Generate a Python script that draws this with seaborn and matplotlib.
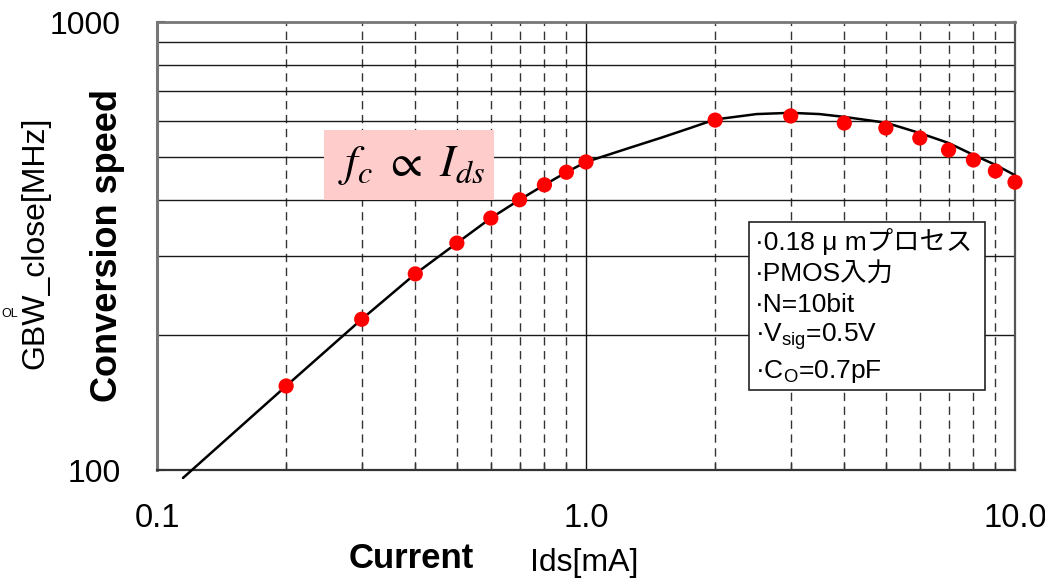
import numpy as np
import pandas as pd
import matplotlib
matplotlib.use("Agg")
import matplotlib.pyplot as plt
import seaborn as sns
from matplotlib.ticker import FixedLocator, FixedFormatter, NullFormatter
from matplotlib.patches import Rectangle

# ---- data ----
current_ma = [0.2, 0.3, 0.4, 0.5, 0.6, 0.7, 0.8, 0.9, 1.0,
              2.0, 3.0, 4.0, 5.0, 6.0, 7.0, 8.0, 9.0, 10.0]
speed_mhz = [154, 217, 274, 321, 365, 401, 433, 462, 487,
             604, 617, 595, 580, 551, 518, 492, 465, 439]

fit_current = [0.115, 0.2, 0.3, 0.4, 0.5, 0.6, 0.7, 0.8, 0.9, 1.0, 1.25, 1.5, 1.75,
               2.0, 2.5, 3.0, 3.5, 4.0, 5.0, 6.0, 7.0, 8.0, 9.0, 10.0]
fit_speed = [96, 154, 217, 274, 321, 365, 401, 433, 462, 487, 522, 552, 580,
             606, 623, 627, 623, 614, 596, 565, 537, 505, 480, 455]

x_major = [0.1, 1.0, 10.0]
x_major_labels = ["0.1", "1.0", "10.0"]
y_major = [100, 1000]
y_major_labels = ["100", "1000"]

legend_lines = ["·0.18 μ mプロセス", "·PMOS入力", "·N=10bit",
                "·V$_{sig}$=0.5V", "·C$_{O}$=0.7pF"]

sns.set_theme(style="white")
plt.rcParams["font.family"] = ["Liberation Sans", "Noto Sans CJK JP"]
plt.rcParams["mathtext.fontset"] = "custom"
plt.rcParams["mathtext.rm"] = "Liberation Sans"
plt.rcParams["mathtext.default"] = "regular"

fig = plt.figure(figsize=(10.45, 5.83), dpi=100)
ax = fig.add_axes([157 / 1045, 1 - 470 / 583, 858 / 1045, 448 / 583])
ax.set_xscale("log")
ax.set_yscale("log")
ax.set_xlim(0.1, 10)
ax.set_ylim(100, 1000)

fit_df = pd.DataFrame({"x": fit_current, "y": fit_speed})
pts_df = pd.DataFrame({"x": current_ma, "y": speed_mhz})
sns.lineplot(data=fit_df, x="x", y="y", ax=ax, color="black", lw=1.8,
             estimator=None, sort=False, zorder=4, clip_on=False)
sns.scatterplot(data=pts_df, x="x", y="y", ax=ax, color="#FF0000", s=120,
                edgecolor="none", linewidth=0, zorder=5, clip_on=False)

# ticks
ax.xaxis.set_major_locator(FixedLocator(x_major))
ax.xaxis.set_major_formatter(FixedFormatter(x_major_labels))
ax.xaxis.set_minor_locator(FixedLocator([0.2, 0.3, 0.4, 0.5, 0.6, 0.7, 0.8, 0.9,
                                         2, 3, 4, 5, 6, 7, 8, 9]))
ax.xaxis.set_minor_formatter(NullFormatter())
ax.yaxis.set_major_locator(FixedLocator(y_major))
ax.yaxis.set_major_formatter(FixedFormatter(y_major_labels))
ax.yaxis.set_minor_locator(FixedLocator([200, 300, 400, 500, 600, 700, 800, 900]))
ax.yaxis.set_minor_formatter(NullFormatter())

ax.tick_params(axis="x", which="major", direction="in", length=0, pad=24,
               labelsize=23.5, labelcolor="black")
ax.tick_params(axis="x", which="minor", direction="in", length=5, width=1,
               color="#333333", bottom=True)
ax.tick_params(axis="y", which="major", direction="in", length=6, width=1.5,
               pad=26, labelsize=23, labelcolor="black", left=True, color="#333333")
ax.tick_params(axis="y", which="minor", length=0)

ax.set_xlabel("")
ax.set_ylabel("")

# grid
ax.yaxis.grid(True, which="minor", ls="-", color="#1a1a1a", lw=1.0, zorder=1)
ax.yaxis.grid(False, which="major")
ax.xaxis.grid(True, which="minor", ls=(0, (6, 4)), color="#333333", lw=1.0, zorder=1)
ax.xaxis.grid(True, which="major", ls="-", color="#111111", lw=1.0, zorder=1)
ax.set_axisbelow(True)

for side, c, w in [("left", "#777777", 2.2), ("top", "#777777", 2.0),
                   ("bottom", "#333333", 1.6), ("right", "#555555", 1.6)]:
    ax.spines[side].set_visible(True)
    ax.spines[side].set_color(c)
    ax.spines[side].set_linewidth(w)

# formula box
ax.add_patch(Rectangle((324 / 1045, 1 - 200 / 583), 170 / 1045, 70 / 583,
                       transform=fig.transFigure, facecolor="#FFCCCC",
                       edgecolor="none", zorder=6, clip_on=False))
fig.text(411 / 1045, 1 - 165 / 583,
         r"$\mathit{f}_{\mathit{c}}\ \propto\ \mathit{I}_{\mathit{ds}}$",
         math_fontfamily="stix", fontsize=33, ha="center", va="center",
         color="black", zorder=7)

# legend-like info box
ax.add_patch(Rectangle((749 / 1045, 1 - 390 / 583), 236 / 1045, 168 / 583,
                       transform=fig.transFigure, facecolor="white",
                       edgecolor="#222222", lw=1.2, zorder=6, clip_on=False))
line_baselines = [250, 282, 312, 342, 378]
for txt, yp in zip(legend_lines, line_baselines):
    fig.text(755 / 1045, 1 - yp / 583, txt, fontsize=19, ha="left", va="baseline",
             color="black", zorder=7)

# axis titles
fig.text(35 / 1045, 1 - 243 / 583, "GBW_close[MHz]", rotation=90, fontsize=23,
         ha="center", va="center", color="black")
fig.text(108 / 1045, 1 - 245 / 583, "Conversion speed", rotation=90, fontsize=26,
         fontweight="bold", ha="center", va="center", color="black")
fig.text(411 / 1045, 1 - 558 / 583, "Current", fontsize=25, fontweight="bold",
         ha="center", va="center", color="black")
fig.text(584 / 1045, 1 - 563 / 583, "Ids[mA]", fontsize=23,
         ha="center", va="center", color="black")
fig.text(1 / 1045, 1 - 314 / 583, "OL", fontsize=9, ha="left", va="center",
         color="black")

fig.savefig("out.png", dpi=100)
